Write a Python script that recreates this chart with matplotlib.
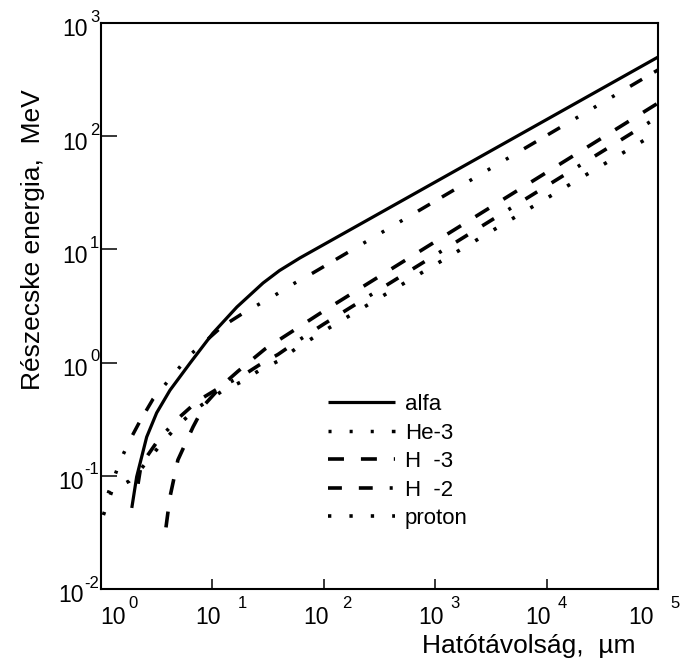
import matplotlib
matplotlib.use('Agg')
import matplotlib.pyplot as plt
from matplotlib import transforms

plt.rcParams['font.family'] = ['Liberation Sans', 'DejaVu Sans']
plt.rcParams['lines.scale_dashes'] = False

# ---------------- data ----------------
alfa_x = [1.89, 2.09, 2.57, 3.16, 4.16, 6.3, 10.1, 16.6, 28.5, 40, 61, 1e5]
alfa_e = [0.052, 0.098, 0.22, 0.36, 0.57, 0.99, 1.82, 3.1, 5.05, 6.5, 8.4, 500]

he3_x = [1.16, 1.5, 1.8, 2.21, 2.93, 4.52, 6.3, 8.9, 12.1, 19.6, 34.3, 55, 80, 1e5]
he3_e = [0.07, 0.138, 0.203, 0.297, 0.476, 0.794, 1.17, 1.58, 2.07, 2.8, 3.8, 5.05, 6.2, 385]

h3_x = [3.83, 4.16, 4.9, 6.7, 8.6, 12.2, 17, 29.7, 100, 1e5]
h3_e = [0.035, 0.065, 0.138, 0.27, 0.43, 0.63, 0.84, 1.32, 2.86, 196]

h2_x = [2.15, 2.29, 3.3, 4.9, 7.4, 12.2, 18.4, 26.2, 38.8, 56.3, 100, 1e5]
h2_e = [0.085, 0.125, 0.21, 0.32, 0.46, 0.62, 0.76, 0.95, 1.18, 1.52, 2.19, 148]

p_x = [1.05, 1.26, 1.8, 2.29, 3.3, 4.9, 7.4, 12.2, 18.4, 26.2, 38.8, 56.3, 100, 1e5]
p_e = [0.045, 0.075, 0.09, 0.115, 0.18, 0.28, 0.40, 0.56, 0.68, 0.85, 1.03, 1.33, 1.9, 109]

labels = ['alfa', 'He-3', 'H  -3', 'H  -2', 'proton']

xtick_vals = [1e0, 1e1, 1e2, 1e3, 1e4, 1e5]
xtick_exps = ['0', '1', '2', '3', '4', '5']
ytick_vals = [1e-2, 1e-1, 1e0, 1e1, 1e2, 1e3]
ytick_exps = ['-2', '-1', '0', '1', '2', '3']

xlabel = 'Hatótávolság,  µm'
ylabel = 'Részecske energia,  MeV'

# ---------------- layout ----------------
W, H, DPI = 687, 662, 100
PT = 72.0 / DPI  # points per pixel

fig = plt.figure(figsize=(W / DPI, H / DPI), dpi=DPI)
fig.patch.set_facecolor('white')

def fx(px):
    return px / W

def fy(py):
    return 1 - py / H

ax = fig.add_axes([fx(101), fy(589), fx(658) - fx(101), fy(23) - fy(589)])
ax.set_xscale('log')
ax.set_yscale('log')
ax.set_xlim(1, 1e5)
ax.set_ylim(1e-2, 1e3)

for s in ax.spines.values():
    s.set_linewidth(1.5)

ax.set_xticks(xtick_vals)
ax.set_yticks(ytick_vals)
ax.minorticks_off()
ax.tick_params(axis='x', which='major', direction='in', length=10 * PT, width=1.1,
               labelbottom=False)
ax.tick_params(axis='y', which='major', direction='in', length=16 * PT, width=1.1,
               labelleft=False)

styles = [
    dict(linestyle='-', lw=2.3),
    dict(linestyle=(0, (2.2, 13, 2.2, 13, 2.2, 13, 10, 10, 10, 13)), lw=2.5),
    dict(linestyle=(0, (11.5, 12.2)), lw=2.6),
    dict(linestyle=(0, (10, 12.2, 10, 12.2, 2.2, 12.2)), lw=2.6),
    dict(linestyle=(0, (2.4, 13)), lw=2.6),
]
series = [(alfa_x, alfa_e), (he3_x, he3_e), (h3_x, h3_e), (h2_x, h2_e), (p_x, p_e)]
handles = []
for (xs, es), st, lab in zip(series, styles, labels):
    ln, = ax.plot(xs, es, color='black', label=lab, solid_capstyle='butt',
                  dash_capstyle='butt', solid_joinstyle='round', **st)
    handles.append(ln)

LFS = 16
leg = ax.legend(handles=handles, loc='upper left',
                bbox_to_anchor=(fx(328), fy(394)), bbox_transform=fig.transFigure,
                frameon=False, fontsize=LFS, handlelength=3.0, handletextpad=0.45,
                labelspacing=0.34, borderpad=0, borderaxespad=0)

TFS = 16.5
SFS = 12
# tick labels: "10" plus a raised exponent
bx = transforms.blended_transform_factory(ax.transData, fig.transFigure)
for v, e, dx_base, dx_sup in zip(xtick_vals, xtick_exps,
                                 [12, -4, -8, -4, -9, -17],
                                 [27, 25, 18, 15, 11, 12]):
    ax.annotate('10', xy=(v, fy(618)), xycoords=bx, xytext=(dx_base * PT, 0),
                textcoords='offset points', ha='center', va='center', fontsize=TFS,
                annotation_clip=False)
    ax.annotate(e, xy=(v, fy(603)), xycoords=bx, xytext=(dx_sup * PT, 0),
                textcoords='offset points', ha='left', va='center', fontsize=SFS,
                annotation_clip=False)

by = transforms.blended_transform_factory(fig.transFigure, ax.transData)
for v, e in zip(ytick_vals, ytick_exps):
    neg = e.startswith('-')
    ax.annotate('10', xy=(fx(84 if neg else 88), v), xycoords=by, xytext=(0, -7 * PT),
                textcoords='offset points', ha='right', va='center', fontsize=TFS,
                annotation_clip=False)
    ax.annotate(e, xy=(fx(99 if neg else 90), v), xycoords=by, xytext=(0, 6 * PT),
                textcoords='offset points', ha='right' if neg else 'left',
                va='center', fontsize=SFS, annotation_clip=False)

AFS = 19
fig.text(fx(529), fy(646), xlabel, ha='center', va='center', fontsize=AFS)
fig.text(fx(33), fy(240), ylabel, ha='center', va='center', rotation=90, fontsize=AFS)

fig.savefig('out.png', dpi=DPI)
